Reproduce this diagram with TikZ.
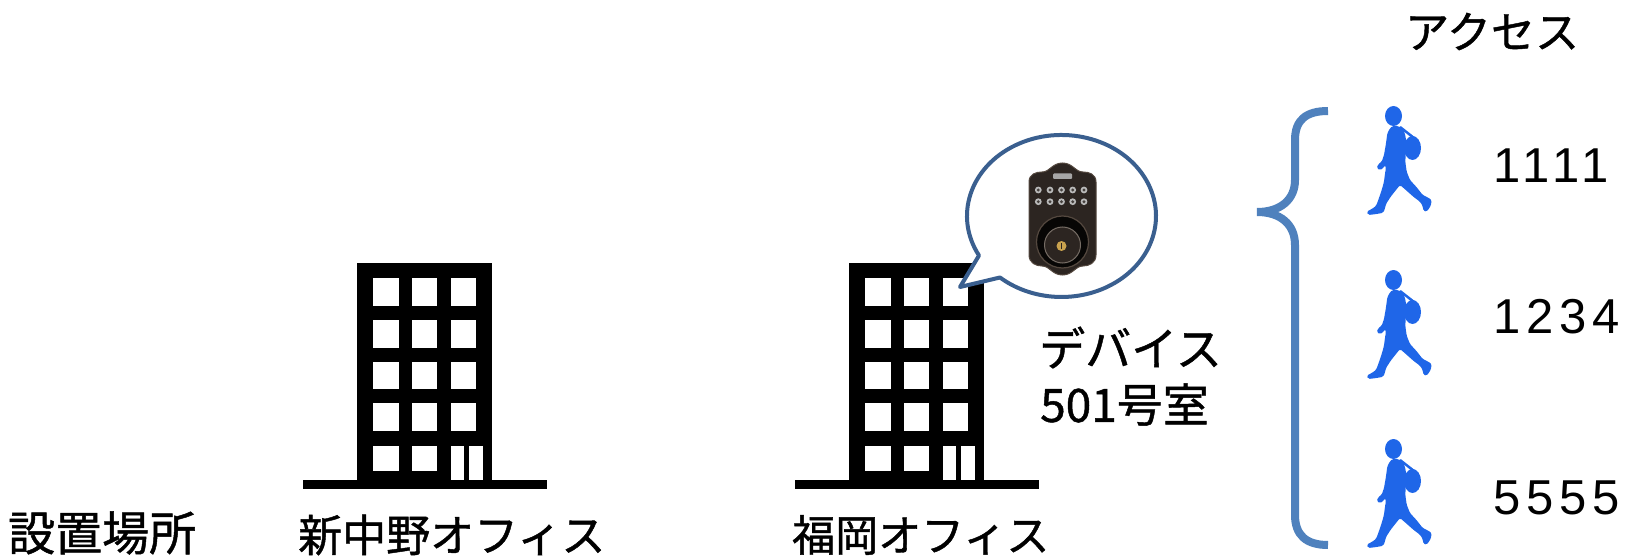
\documentclass[tikz,border=0pt]{standalone}
\usepackage{fontspec}
\newfontfamily\jpfont[FakeBold=1]{Noto Sans CJK JP}
\newfontfamily\numfont[LetterSpace=12]{Liberation Sans}
\definecolor{walkblue}{HTML}{1F66E8}
\definecolor{bracecol}{HTML}{4F81BD}
\definecolor{bubblecol}{HTML}{3A5F8F}
\definecolor{bronze}{HTML}{2C2521}
\definecolor{bronzeedge}{HTML}{54483F}
\definecolor{keygold}{HTML}{C9A24E}

\tikzset{
  jplabel/.style={font=\jpfont\fontsize{44}{52}\selectfont, inner sep=0pt, anchor=west},
  codenum/.style={font=\numfont\fontsize{49}{58}\selectfont, inner sep=0pt, anchor=west},
  pics/office/.style={code={
    % tower body and ground slab
    \fill[black] (0,0) rectangle (135,217);
    \fill[black] (-54,217) rectangle (190,226);
    % windows
    \foreach \ya/\yb in {15/43,57/85,99/126,140/168,183/208}{
      \fill[white] (16,\ya) rectangle (42,\yb);
      \fill[white] (55,\ya) rectangle (80,\yb);
    }
    \foreach \ya/\yb in {15/43,57/85,99/126,140/168}{
      \fill[white] (94,\ya) rectangle (119,\yb);
    }
    % entrance doors
    \fill[white] (94,183) rectangle (107,217);
    \fill[white] (112,183) rectangle (126,217);
  }},
  pics/walker/.style={code={
    \fill[walkblue, rounded corners=1.5pt]
      (38.3,26) -- (43.3,29.3) -- (45.7,36.7) -- (46,50) -- (45.3,61.7)
      -- (46.7,71.7) -- (50,80) -- (56.7,87.3) -- (62.7,95) -- (68.3,97.7)
      -- (71.7,100) -- (70.7,106) -- (66.7,111.7) -- (63.3,110.7) -- (62.7,106)
      -- (60,101.7) -- (53.3,96.7) -- (45,89.3) -- (40,85) -- (36,90)
      -- (30.7,96.7) -- (26,104) -- (25,108.3) -- (23.3,112.7) -- (16.7,114)
      -- (8.3,115) -- (6.7,111.7) -- (11.7,109) -- (16,106) -- (18.3,100)
      -- (21.7,90) -- (24,81.7) -- (25,73.3) -- (26,68.3) -- (25,65)
      -- (23.3,68.3) -- (20,70) -- (16.7,68.3) -- (18.3,64) -- (21.7,61.7)
      -- (24,55) -- (26,43.3) -- (27.3,33.3) -- (30,28.3) -- (32.3,26) -- cycle;
    % head
    \fill[walkblue] (33.5,16) ellipse[x radius=8.5, y radius=10];
    % shoulder bag and strap
    \draw[walkblue, line width=2.5pt] (40,27) -- (54,38);
    \fill[walkblue] (52.5,48) ellipse[x radius=8.5, y radius=12];
  }}
}

\begin{document}
\begin{tikzpicture}[x=1pt, y=-1pt]
  \useasboundingbox (0,0) rectangle (1631,559);

  % buildings
  \pic at (357,263) {office};
  \pic at (849,263) {office};

  % bottom row labels
  \node[jplabel, font=\jpfont\fontsize{47}{54}\selectfont] (place) at (8,533) {設置場所};
  \node[jplabel] (nakano)  at (298,535) {新中野オフィス};
  \node[jplabel, font=\jpfont\fontsize{43}{50}\selectfont] (fukuoka) at (792,535) {福岡オフィス};

  % speech bubble pointing at the Fukuoka office
  \coordinate (tail) at (960,287);
  \draw[bubblecol, line width=4pt, line join=round, fill=white]
    (tail) -- (979,255.5)
    arc[start angle=150.8, end angle=490.6, x radius=94.5, y radius=81]
    -- cycle;

  % keypad deadbolt
  \fill[bronze, draw=bronzeedge, line width=1pt]
    (1029,255) -- (1029,182) .. controls (1029,174) and (1036,172) .. (1042,172)
    .. controls (1050,172) and (1052,163) .. (1062.5,163)
    .. controls (1073,163) and (1075,172) .. (1083,172)
    .. controls (1089,172) and (1096,174) .. (1096,182) -- (1096,255)
    .. controls (1096,263) and (1089,266) .. (1083,266)
    .. controls (1075,266) and (1073,275) .. (1062.5,275)
    .. controls (1052,275) and (1050,266) .. (1042,266)
    .. controls (1036,266) and (1029,263) .. (1029,255) -- cycle;
  \fill[gray!70, rounded corners=1pt] (1053,173.5) rectangle (1072,179);
  \foreach \bx in {1038.3,1050,1061.5,1072.7,1084}{
    \foreach \by in {190,201.7}{
      \fill[gray!55] (\bx,\by) circle[radius=3.4];
      \fill[gray!30!bronze] (\bx,\by) circle[radius=1.6];
    }
  }
  \fill[black!85!bronze, draw=bronzeedge, line width=1.2pt] (1062.5,242) circle[radius=26];
  \fill[bronze, draw=bronzeedge!80, line width=1pt] (1062.5,245) circle[radius=18];
  \fill[keygold] (1061.5,246) circle[radius=5];
  \draw[bronze, line width=1pt] (1061.5,243) -- (1061.5,249);

  \node[jplabel, font=\jpfont\fontsize{46}{54}\selectfont] (device) at (1039,347.5) {デバイス};
  \node[jplabel, font=\jpfont\fontsize{46}{54}\selectfont] (room)   at (1040,404.5) {501号室};

  % access header, brace and codes
  \node[jplabel] (access) at (1405,31.5) {アクセス};
  \coordinate (bracetip) at (1257,212);
  \draw[bracecol, line width=8pt]
    (1328,111) .. controls (1306,111) and (1295,120) .. (1295,140)
    -- (1295,180) .. controls (1295,200) and (1280,212) .. (bracetip)
    .. controls (1280,212) and (1295,224) .. (1295,245)
    -- (1295,515) .. controls (1295,535) and (1306,545) .. (1328,545);

  \pic at (1360,100) {walker};
  \pic at (1360,264) {walker};
  \pic at (1360,433) {walker};

  \node[codenum] (code1) at (1493,165.5) {1111};
  \node[codenum] (code2) at (1493,317)   {1234};
  \node[codenum] (code3) at (1493,498)   {5555};
\end{tikzpicture}
\end{document}
